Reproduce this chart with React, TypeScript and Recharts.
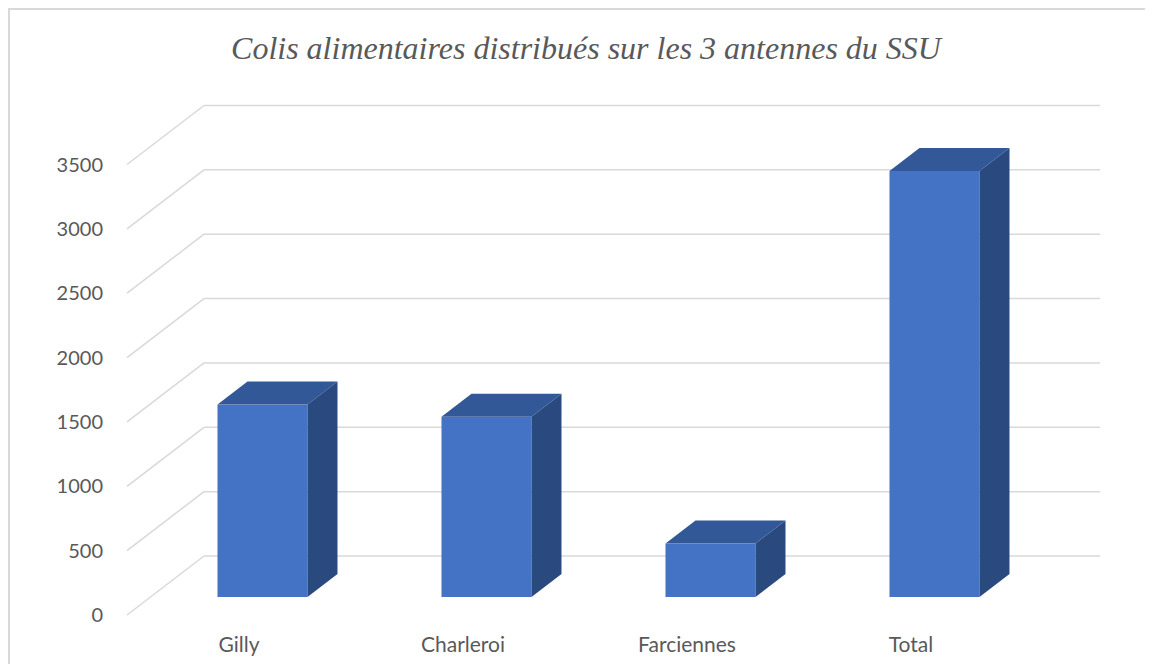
import { BarChart, Bar, XAxis, YAxis, CartesianGrid } from "recharts"

const categories = ["Gilly", "Charleroi", "Farciennes", "Total"]
const colis = [1495, 1400, 415, 3310]
const yTicks = [0, 500, 1000, 1500, 2000, 2500, 3000, 3500]

const data = categories.map((name, i) => ({ name, colis: colis[i] }))

// fake 3D: how far the back wall sits from the front plane
const WALL_DX = 77
const WALL_DY = 59
// bars stand a bit inside the floor, with their own depth
const BAR_FRONT = 0.305
const BAR_DX = 30
const BAR_DY = 23

const GRID = "#D9D9D9"
const TEXT = "#595959"
const FONT = "Lato, 'Open Sans', sans-serif"

const GridLine = (props: any) => {
  const { x1, y1, x2 } = props
  const bx = x1 + WALL_DX
  const by = y1 - WALL_DY
  return (
    <g key={`grid-${y1}`}>
      <line x1={x1} y1={y1} x2={bx} y2={by} stroke={GRID} strokeWidth={1.5} />
      <line x1={bx} y1={by} x2={x2 + WALL_DX} y2={by} stroke={GRID} strokeWidth={1.5} />
    </g>
  )
}

const Box3D = (props: any) => {
  const { x, y, width, height } = props
  const fx = x + WALL_DX * BAR_FRONT
  const fy = y - WALL_DY * BAR_FRONT
  const top = `${fx},${fy} ${fx + BAR_DX},${fy - BAR_DY} ${fx + width + BAR_DX},${fy - BAR_DY} ${fx + width},${fy}`
  const side = `${fx + width},${fy} ${fx + width + BAR_DX},${fy - BAR_DY} ${fx + width + BAR_DX},${fy + height - BAR_DY} ${fx + width},${fy + height}`
  return (
    <g>
      <rect x={fx} y={fy} width={width} height={height} fill="#4472C4" />
      <polygon points={top} fill="#335897" />
      <polygon points={side} fill="#2A4A7F" />
    </g>
  )
}

export default function App() {
  return (
    <div
      style={{
        position: "relative",
        width: 1145,
        height: 656,
        boxSizing: "border-box",
        borderTop: `2px solid ${GRID}`,
        borderLeft: `2px solid ${GRID}`,
        overflow: "hidden",
        background: "#fff",
      }}
    >
      <div
        style={{
          position: "absolute",
          top: 19,
          left: 0,
          width: 1152,
          textAlign: "center",
          fontFamily: "'Liberation Serif', 'Times New Roman', serif",
          fontStyle: "italic",
          fontSize: 32,
          color: TEXT,
          lineHeight: "38px",
        }}
      >
        Colis alimentaires distribués sur les 3 antennes du SSU
      </div>
      <BarChart
        width={1143}
        height={654}
        data={data}
        margin={{ top: 154.5, right: 130, left: 0, bottom: 0 }}
        barSize={90}
      >
        <CartesianGrid vertical={false} horizontal={GridLine} />
        <XAxis
          dataKey="name"
          axisLine={false}
          tickLine={false}
          height={49}
          tickMargin={16}
          interval={0}
          tick={{ fill: TEXT, fontSize: 21, fontFamily: FONT }}
        />
        <YAxis
          domain={[0, 3500]}
          ticks={yTicks}
          axisLine={false}
          tickLine={false}
          width={117}
          tickMargin={18}
          tick={{ fill: TEXT, fontSize: 20, fontFamily: FONT }}
        />
        <Bar dataKey="colis" shape={<Box3D />} isAnimationActive={false} />
      </BarChart>
    </div>
  )
}
